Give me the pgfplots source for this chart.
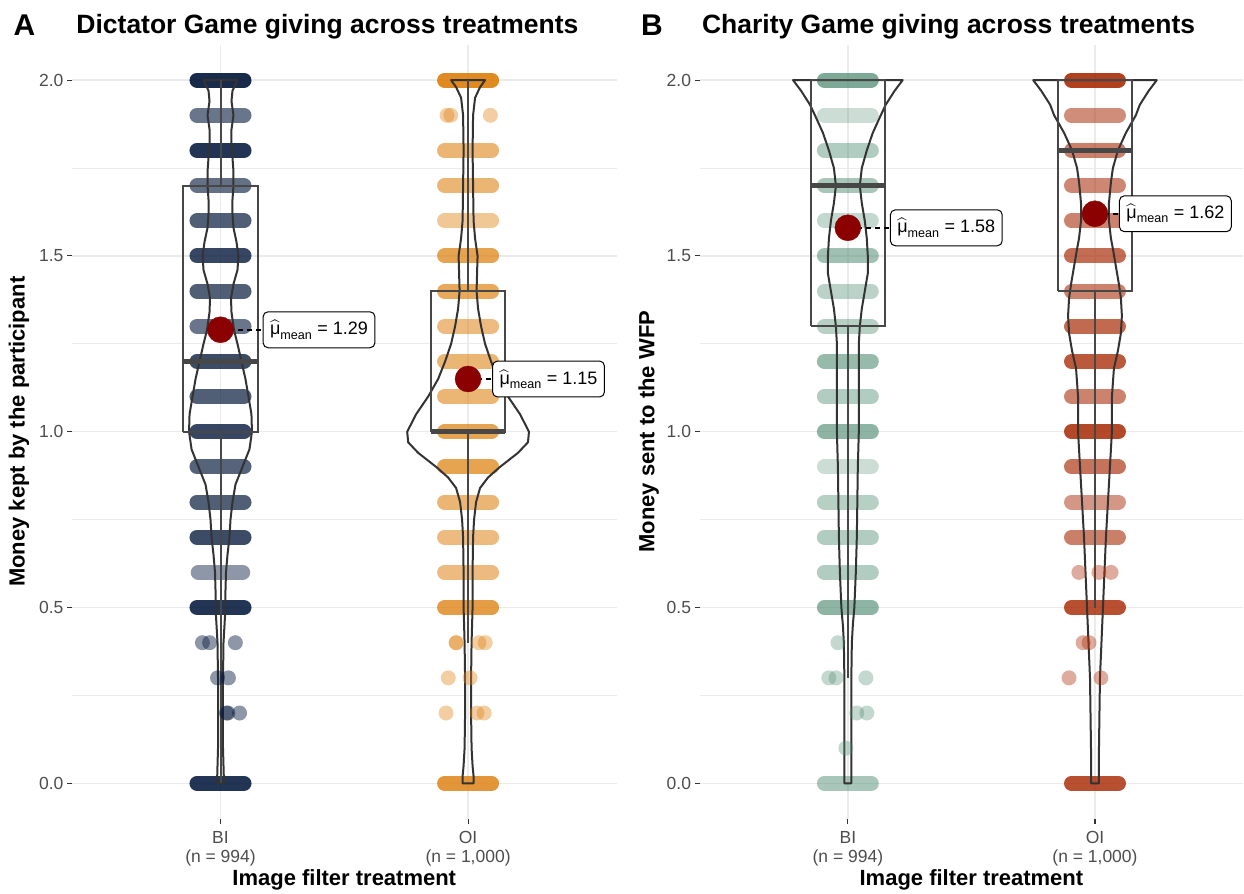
\documentclass[border=0pt]{standalone}
\usepackage{fontspec}
\setmainfont{Liberation Sans}
\usepackage{amsmath}
\usepackage{pgfplots}
\usepackage{pgfplotstable}
\pgfplotsset{compat=1.18}

\definecolor{navy}{RGB}{5,25,60}
\definecolor{orng}{RGB}{222,132,22}
\definecolor{sage}{RGB}{82,142,115}
\definecolor{rust}{RGB}{170,48,12}
\definecolor{meanred}{HTML}{8B0000}
\definecolor{gridc}{HTML}{EBEBEB}
\definecolor{gray30}{HTML}{4D4D4D}

\newcommand\muhat{\(\widehat{\text{μ}}_{\text{mean}}\)}
% one jittered row of points, drawn as a capsule of overlapping dots
\newcommand\band[5]{\addplot[bandline,color=#1,opacity=#2] coordinates {(#3,#5) (#4,#5)};}

% violin half widths, in pixels of the reference (248 px = 1 category)
\pgfplotstableread{
y w
0 0
0 3.5
0.05 3
0.1 2.5
0.2 2.5
0.3 2.5
0.4 3
0.45 4
0.5 5
0.55 5
0.6 5.5
0.65 7
0.7 9
0.75 10
0.8 12
0.85 15
0.9 22
0.95 29
1.0 31.5
1.05 31
1.1 28
1.15 25
1.2 21
1.25 17
1.29 13.5
1.34 11
1.38 10.5
1.42 13
1.46 17
1.5 18
1.54 16
1.58 13
1.62 12
1.66 12
1.7 13
1.74 13
1.78 12
1.82 11
1.86 11
1.9 13
1.94 11
1.97 12
2 17
2 0
}\vABI

\pgfplotstableread{
y w
0 0
0 5.5
0.02 5.5
0.05 4.5
0.1 3.5
0.2 3
0.3 3
0.4 3.5
0.5 4.5
0.6 4.5
0.7 5
0.75 6
0.8 8
0.84 12
0.87 20
0.9 32
0.94 50
0.97 60
1.0 61
1.05 52
1.1 40
1.15 30
1.2 23
1.25 17
1.3 13
1.35 10
1.4 8.5
1.45 9
1.5 9.5
1.55 7
1.6 5.5
1.7 5
1.8 4.5
1.9 5
1.95 7
1.98 12
2 17
2 0
}\vAOI

\pgfplotstableread{
y w
0 0
0 3.5
0.1 3.5
0.2 3.5
0.3 3.5
0.4 4
0.45 5
0.5 6.5
0.6 8
0.7 9
0.8 9.5
0.9 10
1.0 11
1.1 11
1.2 11
1.25 11
1.3 12
1.35 14
1.4 17
1.45 20
1.5 20
1.55 19
1.6 17
1.65 14
1.7 12
1.75 14
1.8 19
1.85 25
1.9 33
1.93 38
1.97 47
2 55
2 0
}\vBBI

\pgfplotstableread{
y w
0 0
0 4
0.1 4
0.2 4.5
0.3 5
0.4 6.5
0.5 8
0.6 9.5
0.7 11
0.8 13
0.9 15
1.0 17
1.1 17
1.18 19
1.23 23
1.28 26
1.33 27
1.38 26
1.42 24
1.47 21
1.52 18
1.55 16
1.6 14
1.65 14
1.71 16
1.75 18
1.8 23
1.85 31
1.9 41
1.93 45
1.97 54
2 62
2 0
}\vBOI

\pgfplotsset{
  panel/.style={
    anchor=south west, width=545pt, height=774pt, scale only axis,
    xmin=0.4, xmax=2.6, ymin=-0.1, ymax=2.1, clip=false,
    axis line style={draw=none},
    xtick={1,2}, ytick={0,0.5,1,1.5,2},
    minor ytick={0.25,0.75,1.25,1.75},
    xmajorgrids, ymajorgrids, yminorgrids,
    major grid style={color=gridc, line width=1.5pt},
    minor grid style={color=gridc, line width=0.8pt},
    tick pos=left, tick align=outside,
    major tick length=5pt, minor tick length=0pt,
    tick style={color=black!80, line width=1.1pt},
    /pgf/number format/assume math mode=true,
    yticklabel style={/pgf/number format/fixed, /pgf/number format/fixed zerofill,
      /pgf/number format/precision=1},
    tick label style={font=\fontsize{17.5}{19}\selectfont, text=gray30},
    x tick label style={align=center, yshift=-4pt},
    xticklabels={{BI\\(n = 994)},{OI\\(n = 1,000)}},
  },
  bandline/.style={no markers, line width=15pt, line cap=round, forget plot},
  dots/.style={only marks, mark=*, mark size=7.5pt, mark options={draw opacity=0}},
  violin/.style={no markers, color=black!80, line width=2pt, line join=round},
  boxl/.style={no markers, color=black!72, line width=2pt},
  meandot/.style={only marks, mark=*, mark size=13pt, color=meanred},
  meanline/.style={no markers, black, line width=1.6pt, dash pattern=on 5pt off 4pt},
}
\tikzset{
  meanlabel/.style={draw=black, line width=1pt, fill=white, rounded corners=5pt,
    anchor=west, inner xsep=7pt, minimum height=36pt,
    font=\fontsize{18}{20}\selectfont},
}

\newcommand\titlefont{\fontsize{26.5}{31}\selectfont\bfseries}
\newcommand\axisfont{\fontsize{22}{26}\selectfont\bfseries}
\newcommand\tagfont{\fontsize{30}{35}\selectfont\bfseries}

\begin{document}
\begin{tikzpicture}[x=1pt,y=1pt]
\path (0,0) rectangle (1244,892);

% ---------------- Panel A ----------------
\begin{axis}[panel, at={(72pt,73pt)}]
% BI points
\band{navy}{0.92}{0.905}{1.095}{2.0}
\band{navy}{0.60}{0.905}{1.095}{1.9}
\band{navy}{0.88}{0.905}{1.095}{1.8}
\band{navy}{0.62}{0.905}{1.095}{1.7}
\band{navy}{0.70}{0.905}{1.095}{1.6}
\band{navy}{0.80}{0.905}{1.095}{1.5}
\band{navy}{0.70}{0.905}{1.095}{1.4}
\band{navy}{0.60}{0.905}{1.095}{1.3}
\band{navy}{0.78}{0.905}{1.095}{1.2}
\band{navy}{0.70}{0.905}{1.095}{1.1}
\band{navy}{0.80}{0.905}{1.095}{1.0}
\band{navy}{0.68}{0.905}{1.095}{0.9}
\band{navy}{0.70}{0.905}{1.095}{0.8}
\band{navy}{0.78}{0.905}{1.095}{0.7}
\band{navy}{0.45}{0.910}{1.090}{0.6}
\band{navy}{0.88}{0.905}{1.095}{0.5}
\band{navy}{0.88}{0.905}{1.095}{0.0}
\addplot[dots, color=navy, opacity=0.45, forget plot] coordinates {
  (0.927,0.4) (0.956,0.4) (1.060,0.4)
  (0.988,0.3) (1.032,0.3)
  (1.024,0.2) (1.030,0.2) (1.077,0.2)};
% OI points
\band{orng}{0.95}{1.905}{2.095}{2.0}
\band{orng}{0.60}{1.905}{2.095}{1.8}
\band{orng}{0.60}{1.905}{2.095}{1.7}
\band{orng}{0.45}{1.905}{2.095}{1.6}
\band{orng}{0.75}{1.905}{2.095}{1.5}
\band{orng}{0.70}{1.905}{2.095}{1.4}
\band{orng}{0.55}{1.905}{2.095}{1.3}
\band{orng}{0.60}{1.905}{2.095}{1.2}
\band{orng}{0.60}{1.905}{2.095}{1.1}
\band{orng}{0.75}{1.905}{2.095}{1.0}
\band{orng}{0.75}{1.905}{2.095}{0.9}
\band{orng}{0.60}{1.905}{2.095}{0.8}
\band{orng}{0.55}{1.905}{2.095}{0.7}
\band{orng}{0.55}{1.905}{2.095}{0.6}
\band{orng}{0.80}{1.905}{2.095}{0.5}
\band{orng}{0.85}{1.905}{2.095}{0.0}
\addplot[dots, color=orng, opacity=0.4, forget plot] coordinates {
  (1.915,1.9) (1.930,1.9) (2.090,1.9)
  (1.952,0.4) (1.952,0.4) (2.044,0.4) (2.069,0.4)
  (1.920,0.3) (2.008,0.3)
  (1.911,0.2) (2.036,0.2) (2.065,0.2)};
% violins
\addplot[violin] table[x expr=1+\thisrow{w}/248, y=y] {\vABI};
\addplot[violin] table[x expr=1-\thisrow{w}/248, y=y] {\vABI};
\addplot[violin] table[x expr=2+\thisrow{w}/248, y=y] {\vAOI};
\addplot[violin] table[x expr=2-\thisrow{w}/248, y=y] {\vAOI};
% boxes
\addplot[boxl] coordinates {(0.85,1.0) (1.15,1.0) (1.15,1.7) (0.85,1.7) (0.85,1.0)};
\addplot[boxl, line width=4.5pt] coordinates {(0.85,1.2) (1.15,1.2)};
\addplot[boxl] coordinates {(1,1.7) (1,2.0)};
\addplot[boxl] coordinates {(1,1.0) (1,0.0)};
\addplot[boxl] coordinates {(1.85,1.0) (2.15,1.0) (2.15,1.4) (1.85,1.4) (1.85,1.0)};
\addplot[boxl, line width=4.5pt] coordinates {(1.85,1.0) (2.15,1.0)};
\addplot[boxl] coordinates {(2,1.4) (2,2.0)};
\addplot[boxl] coordinates {(2,1.0) (2,0.4)};
% means
\addplot[meandot] coordinates {(1,1.29) (2,1.15)};
\addplot[meanline] coordinates {(1,1.29) (1.17,1.29)};
\addplot[meanline] coordinates {(2,1.15) (2.097,1.15)};
\node[meanlabel] at (axis cs:1.17,1.29) {\muhat{} = 1.29};
\node[meanlabel] at (axis cs:2.097,1.15) {\muhat{} = 1.15};
\end{axis}

% ---------------- Panel B ----------------
\begin{axis}[panel, at={(700pt,73pt)}, width=544pt]
% BI points
\band{sage}{0.75}{0.905}{1.095}{2.0}
\band{sage}{0.30}{0.905}{1.095}{1.9}
\band{sage}{0.45}{0.905}{1.095}{1.8}
\band{sage}{0.50}{0.905}{1.095}{1.7}
\band{sage}{0.35}{0.905}{1.095}{1.6}
\band{sage}{0.55}{0.905}{1.095}{1.5}
\band{sage}{0.40}{0.905}{1.095}{1.4}
\band{sage}{0.42}{0.905}{1.095}{1.3}
\band{sage}{0.60}{0.905}{1.095}{1.2}
\band{sage}{0.45}{0.905}{1.095}{1.1}
\band{sage}{0.65}{0.905}{1.095}{1.0}
\band{sage}{0.30}{0.905}{1.095}{0.9}
\band{sage}{0.42}{0.905}{1.095}{0.8}
\band{sage}{0.45}{0.905}{1.095}{0.7}
\band{sage}{0.45}{0.905}{1.095}{0.6}
\band{sage}{0.65}{0.905}{1.095}{0.5}
\band{sage}{0.50}{0.905}{1.095}{0.0}
\addplot[dots, color=sage, opacity=0.35, forget plot] coordinates {
  (0.960,0.4)
  (0.923,0.3) (0.952,0.3) (1.073,0.3)
  (1.036,0.2) (1.077,0.2)
  (0.992,0.1)};
% OI points
\band{rust}{0.92}{1.905}{2.095}{2.0}
\band{rust}{0.55}{1.905}{2.095}{1.9}
\band{rust}{0.62}{1.905}{2.095}{1.8}
\band{rust}{0.58}{1.905}{2.095}{1.7}
\band{rust}{0.60}{1.905}{2.095}{1.6}
\band{rust}{0.70}{1.905}{2.095}{1.5}
\band{rust}{0.60}{1.905}{2.095}{1.4}
\band{rust}{0.72}{1.905}{2.095}{1.3}
\band{rust}{0.80}{1.905}{2.095}{1.2}
\band{rust}{0.60}{1.905}{2.095}{1.1}
\band{rust}{0.88}{1.905}{2.095}{1.0}
\band{rust}{0.68}{1.905}{2.095}{0.9}
\band{rust}{0.50}{1.905}{2.095}{0.8}
\band{rust}{0.62}{1.905}{2.095}{0.7}
\band{rust}{0.85}{1.905}{2.095}{0.5}
\band{rust}{0.85}{1.905}{2.095}{0.0}
\addplot[dots, color=rust, opacity=0.4, forget plot] coordinates {
  (1.935,0.6) (2.016,0.6) (2.065,0.6)
  (1.952,0.4) (1.976,0.4)
  (1.895,0.3) (2.024,0.3)};
% violins
\addplot[violin] table[x expr=1+\thisrow{w}/248, y=y] {\vBBI};
\addplot[violin] table[x expr=1-\thisrow{w}/248, y=y] {\vBBI};
\addplot[violin] table[x expr=2+\thisrow{w}/248, y=y] {\vBOI};
\addplot[violin] table[x expr=2-\thisrow{w}/248, y=y] {\vBOI};
% boxes
\addplot[boxl] coordinates {(0.85,1.3) (1.15,1.3) (1.15,2.0) (0.85,2.0) (0.85,1.3)};
\addplot[boxl, line width=4.5pt] coordinates {(0.85,1.7) (1.15,1.7)};
\addplot[boxl] coordinates {(1,1.3) (1,0.3)};
\addplot[boxl] coordinates {(1.85,1.4) (2.15,1.4) (2.15,2.0) (1.85,2.0) (1.85,1.4)};
\addplot[boxl, line width=4.5pt] coordinates {(1.85,1.8) (2.15,1.8)};
\addplot[boxl] coordinates {(2,1.4) (2,0.5)};
% means
\addplot[meandot] coordinates {(1,1.58) (2,1.62)};
\addplot[meanline] coordinates {(1,1.58) (1.17,1.58)};
\addplot[meanline] coordinates {(2,1.62) (2.097,1.62)};
\node[meanlabel] at (axis cs:1.17,1.58) {\muhat{} = 1.58};
\node[meanlabel] at (axis cs:2.097,1.62) {\muhat{} = 1.62};
\end{axis}

% ---------------- titles and axis titles ----------------
\node[anchor=base west, font=\tagfont] at (10,856) {A};
\node[anchor=base west, font=\titlefont] at (73,858) {Dictator Game giving across treatments};
\node[anchor=base west, font=\tagfont] at (638,856) {B};
\node[anchor=base west, font=\titlefont] at (699,858) {Charity Game giving across treatments};
\node[rotate=90, font=\axisfont] at (19,460) {Money kept by the participant};
\node[rotate=90, font=\axisfont] at (649,460) {Money sent to the WFP};
\node[anchor=base, font=\axisfont] at (344.5,6) {Image filter treatment};
\node[anchor=base, font=\axisfont] at (972,6) {Image filter treatment};
\end{tikzpicture}
\end{document}
